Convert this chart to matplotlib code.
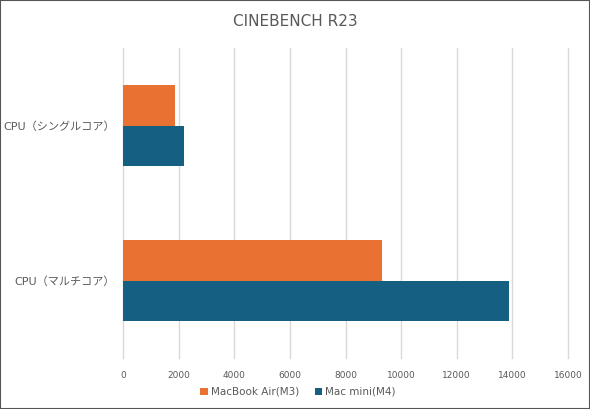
import matplotlib
matplotlib.use("Agg")
import matplotlib.pyplot as plt
from matplotlib.patches import Rectangle

plt.rcParams['font.family'] = ['DejaVu Sans', 'Noto Sans CJK JP']

## data
categories = ['CPU（シングルコア）', 'CPU（マルチコア）']
series_names = ['MacBook Air(M3)', 'Mac mini(M4)']
air_m3 = [1870, 9310]
mini_m4 = [2200, 13880]
x_ticks = [0, 2000, 4000, 6000, 8000, 10000, 12000, 14000, 16000]

orange = '#E97132'
blue = '#156082'
text_col = '#595959'

fig = plt.figure(figsize=(5.9, 4.09), dpi=100)
ax = fig.add_axes([123/590, 1 - 358/409, 445/590, 310/409])

h = 0.26
pos = [0, 1]
ax.barh([p - h/2 for p in pos], air_m3, height=h, color=orange, label=series_names[0])
ax.barh([p + h/2 for p in pos], mini_m4, height=h, color=blue, label=series_names[1])

ax.set_ylim(1.5, -0.5)
ax.set_xlim(0, 16000)
ax.set_xticks(x_ticks)
ax.set_xticklabels([str(t) for t in x_ticks], fontsize=6.5, color=text_col)
ax.set_yticks(pos)
ax.set_yticklabels(categories, fontsize=8, color=text_col,
                   family=['DejaVu Sans', 'Noto Sans CJK JP'])
ax.tick_params(axis='x', length=0, pad=9)
ax.tick_params(axis='y', length=0, pad=6)
ax.grid(axis='x', color='#d9d9d9', linewidth=1)
for gl in ax.get_xgridlines():
    gl.set_clip_on(False)
ax.set_axisbelow(True)
for s in ax.spines.values():
    s.set_visible(False)

fig.text(0.5, 1 - 22/409, 'CINEBENCH R23', ha='center', va='center',
         fontsize=11, color=text_col)

leg = fig.legend(loc='center', bbox_to_anchor=(0.505, 1 - 392/409), ncol=2,
                 frameon=False, fontsize=7.5, handlelength=0.7, handleheight=0.7,
                 handletextpad=0.3, columnspacing=1.5)
for t in leg.get_texts():
    t.set_color(text_col)

# outer frame
fig.patches.append(Rectangle((0, 0), 1, 1, transform=fig.transFigure,
                             fill=False, edgecolor='#555555', linewidth=1.5))

plt.savefig('out.png')
